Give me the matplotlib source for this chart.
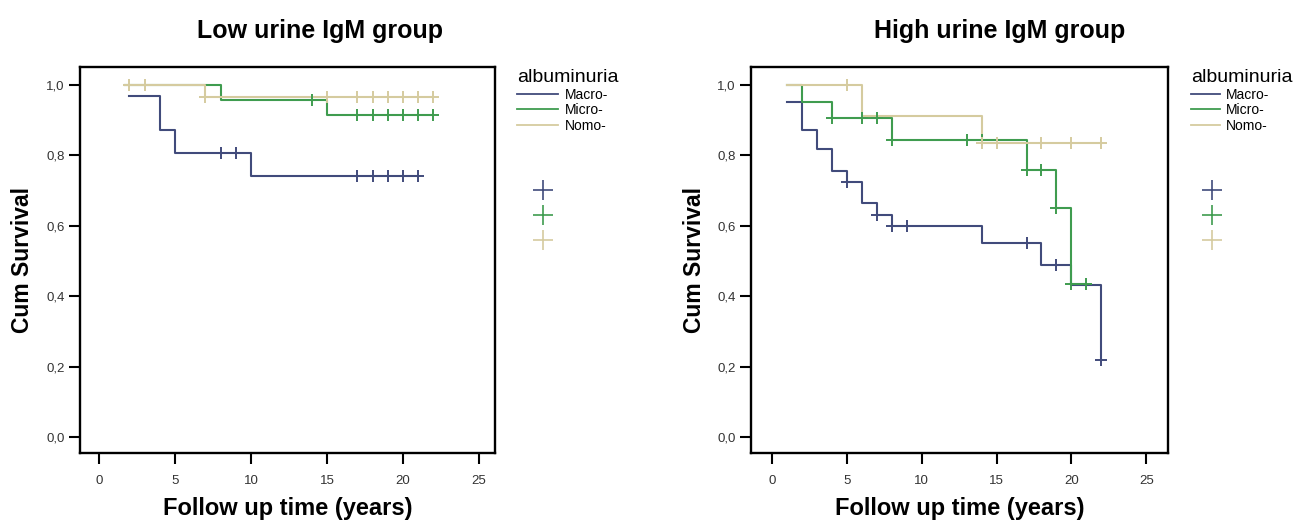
import matplotlib
matplotlib.use("Agg")
import matplotlib.pyplot as plt
from matplotlib.lines import Line2D
from matplotlib.ticker import FuncFormatter
import numpy as np

plt.rcParams['font.family'] = ['Liberation Sans', 'DejaVu Sans']

groups = ["Macro-", "Micro-", "Nomo-"]
colors = ["#414b7b", "#3f9c4f", "#d5cb9f"]

# low urine IgM group: step start times, survival from that time on, censored times
low_macro_t = [2, 4, 5, 10, 21]
low_macro_s = [0.968, 0.871, 0.806, 0.740, 0.740]
low_macro_c = [8, 9, 17, 18, 19, 20, 21]

low_micro_t = [1.7, 8, 15, 22]
low_micro_s = [1.0, 0.955, 0.913, 0.913]
low_micro_c = [14, 17, 18, 19, 20, 21, 22]

low_nomo_t = [1.7, 7, 22]
low_nomo_s = [1.0, 0.966, 0.966]
low_nomo_c = [2, 3, 7, 15, 17, 18, 19, 20, 21, 22]

# high urine IgM group
high_macro_t = [1, 2, 3, 4, 5, 6, 7, 8, 14, 18, 20, 22]
high_macro_s = [0.952, 0.872, 0.818, 0.754, 0.723, 0.664, 0.629, 0.599, 0.550, 0.489, 0.432, 0.219]
high_macro_c = [5, 7, 8, 9, 17, 19, 22]

high_micro_t = [1, 2, 4, 8, 17, 19, 20, 21]
high_micro_s = [1.0, 0.952, 0.905, 0.844, 0.758, 0.651, 0.434, 0.434]
high_micro_c = [4, 6, 7, 8, 13, 14, 17, 18, 19, 20, 21]

high_nomo_t = [1, 6, 14, 22]
high_nomo_s = [1.0, 0.910, 0.834, 0.834]
high_nomo_c = [5, 14, 15, 18, 20, 22]

x_ticks = [0, 5, 10, 15, 20, 25]
y_ticks = [0.0, 0.2, 0.4, 0.6, 0.8, 1.0]

panels = [
    ("Low urine IgM group",
     [(low_macro_t, low_macro_s, low_macro_c),
      (low_micro_t, low_micro_s, low_micro_c),
      (low_nomo_t, low_nomo_s, low_nomo_c)]),
    ("High urine IgM group",
     [(high_macro_t, high_macro_s, high_macro_c),
      (high_micro_t, high_micro_s, high_micro_c),
      (high_nomo_t, high_nomo_s, high_nomo_c)]),
]

W, H = 1303, 523
fig = plt.figure(figsize=(W / 100, H / 100), dpi=100)

# pixel boxes of the two plot frames (left, top, right, bottom)
boxes = [(80, 67, 495, 453), (751, 67, 1168, 453)]
xlims = [(-1.25, 26.05), (-1.4, 26.45)]
title_x = [320, 1000]
ylab_x = [34, 706]
leg_x = [517, 1191]
leg_handle = [3.3, 2.3]
cross_x = [533, 1202]

comma = FuncFormatter(lambda v, p: ("%.1f" % v).replace(".", ","))

for k, (title, series) in enumerate(panels):
    l, t, r, b = boxes[k]
    ax = fig.add_axes([l / W, 1 - b / H, (r - l) / W, (b - t) / H])
    for (tt, ss, cc), col in zip(series, colors[:len(series)]):
        tt = np.array(tt, dtype=float)
        ss = np.array(ss, dtype=float)
        ax.step(tt, ss, where="post", color=col, lw=1.5, zorder=3)
        cc = np.array(cc, dtype=float)
        idx = np.searchsorted(tt, cc, side="right") - 1
        ax.plot(cc, ss[idx], ls="none", marker="+", ms=9, mew=1.4,
                color=col, zorder=4)
    ax.set_xlim(*xlims[k])
    ax.set_ylim(-0.045, 1.05)
    ax.set_xticks(x_ticks)
    ax.set_yticks(y_ticks)
    ax.yaxis.set_major_formatter(comma)
    for s in ax.spines.values():
        s.set_linewidth(1.7)
    ax.tick_params(direction="out", length=8, width=1.5, labelsize=9.5,
                   labelcolor="#333333")
    ax.tick_params(axis="x", pad=8)
    ax.tick_params(axis="y", pad=3)
    ax.set_xlabel("Follow up time (years)", fontsize=17, fontweight="bold")
    ax.xaxis.set_label_coords(0.5, -(497 - b) / (b - t))
    ax.set_ylabel("Cum Survival", fontsize=16.5, fontweight="bold")
    ax.yaxis.set_label_coords((ylab_x[k] - l) / (r - l), 0.5)
    fig.text(title_x[k] / W, 1 - 31 / H, title, fontsize=18,
             fontweight="bold", ha="center", va="center")

    line_handles = [Line2D([], [], color=c, lw=1.3) for c in colors]
    fig.legend(line_handles, groups, loc="upper left",
               bbox_to_anchor=(leg_x[k] / W, 1 - 69 / H),
               title="albuminuria", title_fontsize=14, fontsize=10,
               frameon=False, borderpad=0, borderaxespad=0,
               handlelength=leg_handle[k] * 0.9, handletextpad=0.45,
               labelspacing=0.12, alignment="left")
    cross_handles = [Line2D([], [], ls="none", marker="+", ms=14, mew=1.2,
                            color=c) for c in colors]
    fig.legend(cross_handles, ["", "", ""], loc="upper left",
               bbox_to_anchor=(cross_x[k] / W, 1 - 185 / H),
               fontsize=9, frameon=False, borderpad=0, borderaxespad=0,
               handlelength=1.6, handletextpad=0, labelspacing=1.05)

fig.savefig("out.png", dpi=100)
